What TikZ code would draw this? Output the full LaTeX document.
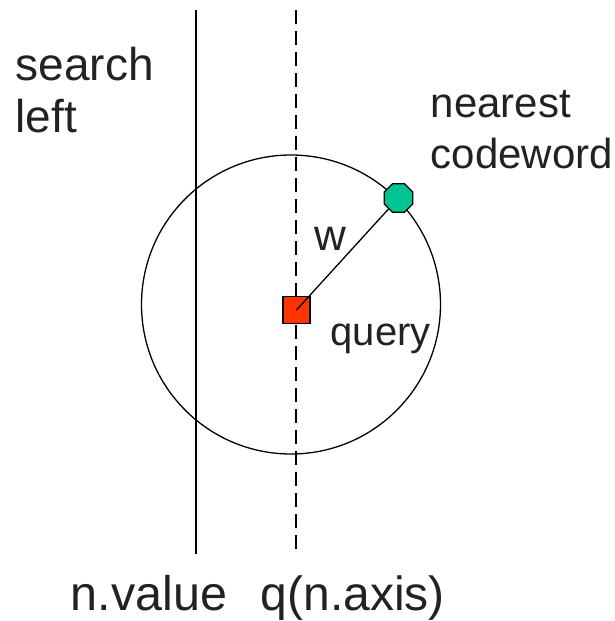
\documentclass[tikz,border=0pt]{standalone}
\usepackage{fontspec}
\setmainfont{Liberation Sans}
\usepackage{tikz}
\usetikzlibrary{shapes.geometric}

\begin{document}
\begin{tikzpicture}[x=1pt, y=-1pt, line width=1.3pt]

% Colours
\definecolor{colQuery}{HTML}{FF3300}
\definecolor{colCode}{HTML}{00C493}
\definecolor{colText}{HTML}{222222}

\tikzset{
  lbl/.style={anchor=base west, inner sep=0pt, text=colText, align=left},
  axisline/.style={draw=black},
}

\useasboundingbox (0,0) rectangle (615,621);

% Axes
\coordinate (valTop) at (196,10);
\coordinate (valBot) at (196,554);
\coordinate (axTop) at (296,10);
\coordinate (axBot) at (296,554);
\draw[axisline] (valTop) -- (valBot);
\draw[axisline, dash pattern=on 14pt off 7pt] (axTop) -- (axBot);

% Search radius
\draw (291,304.5) circle (149.5);

% Query and nearest codeword
\node[draw, fill=colQuery, minimum size=27pt, inner sep=0pt] (query) at (296.5,310) {};
\node[draw, fill=colCode, regular polygon, regular polygon sides=8,
      minimum size=31pt, inner sep=0pt] (code) at (398.5,198) {};
\draw (query.center) -- (code);

% Labels (base = last line)
\node[lbl, font=\fontsize{46}{52}\selectfont] (search) at (15,132) {search\\left};
\node[lbl, font=\fontsize{42}{51}\selectfont] (nearest) at (430,168) {nearest\\codeword};
\node[lbl, font=\fontsize{44}{50}\selectfont] (wlbl) at (314,250) {w};
\node[lbl, font=\fontsize{40}{48}\selectfont] (qlbl) at (330,345) {query};
\node[lbl, font=\fontsize{48.5}{54}\selectfont] (value) at (70,610) {n.value};
\node[lbl, font=\fontsize{48}{54}\selectfont] (axis) at (260,610) {q(n.axis)};

\end{tikzpicture}
\end{document}
